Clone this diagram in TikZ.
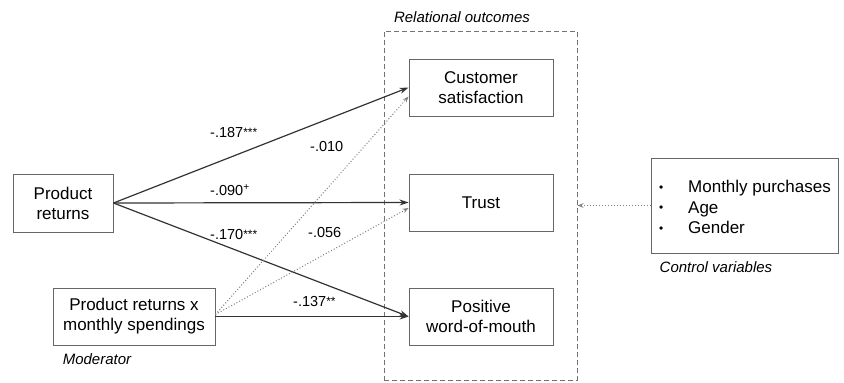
\documentclass[tikz,border=0pt]{standalone}
\usepackage{fontspec}
\setmainfont{Liberation Sans}
\usetikzlibrary{arrows.meta}
\newcommand{\sigstars}[1]{\raisebox{1.5pt}{\fontsize{12}{12}\selectfont #1}}
\newcommand{\smallbul}{\makebox[29pt][l]{\raisebox{1.5pt}{\scalebox{0.7}{\textbullet}}}}
\begin{document}
\begin{tikzpicture}[x=1pt,y=-1pt,
  box/.style={draw=black!60, line width=0.9pt, align=center, font=\fontsize{17}{20}\selectfont, inner sep=0pt},
  coef/.style={font=\fontsize{14.5}{17}\selectfont, anchor=west, inner sep=0pt},
  captext/.style={font=\itshape\fontsize{15}{18}\selectfont, inner sep=0pt},
  strong/.style={draw=black!80, line width=1.2pt, -{Stealth[length=9pt,width=6pt]}},
  weak/.style={draw=black!50, line width=1pt, dotted, -{Stealth[length=6pt,width=4.5pt]}}]
\useasboundingbox (0,0) rectangle (844,383);
% relational outcomes frame
\node[draw=black!55, dash pattern=on 5pt off 3pt, line width=0.9pt, minimum width=193pt, minimum height=349pt, inner sep=0pt] (rel) at (480.5,205.5) {};
\node[captext] (relcap) at (462,17) {Relational outcomes};
% boxes
\node[box, minimum width=100pt, minimum height=58pt] (pr) at (63,203) {Product\\returns};
\node[box, minimum width=162pt, minimum height=57pt] (mod) at (134,316.5) {Product returns x\\monthly spendings};
\node[captext] (modcap) at (97,359) {Moderator};
\node[box, minimum width=144pt, minimum height=57pt] (cs) at (481,87.5) {Customer\\satisfaction};
\node[box, minimum width=144pt, minimum height=57pt] (tr) at (481,202.5) {Trust};
\node[box, minimum width=144pt, minimum height=57pt] (pw) at (481,316.5) {Positive\\word-of-mouth};
\node[box, minimum width=187pt, minimum height=95pt] (ctrl) at (744.5,205.5) {};
\node[anchor=west, inner sep=0pt, align=left, font=\fontsize{17}{20.5}\selectfont] (ctrltext) at (659,207)
  {\smallbul Monthly purchases\\\smallbul Age\\\smallbul Gender};
\node[captext] (ctrlcap) at (716,267) {Control variables};
% paths
\draw[strong] (pr.east) -- (cs.west);
\draw[strong] (pr.east) -- (tr.west);
\draw[strong] (pr.east) -- (pw.west);
\draw[strong] (mod.east) -- (pw.west);
\draw[weak] ([yshift=2pt]mod.east) -- ([yshift=-9pt]cs.west);
\draw[weak] ([yshift=2pt]mod.east) -- ([yshift=-5.5pt]tr.west);
\draw[weak] (ctrl.west) -- (rel.east);
% coefficients
\node[coef] (c1) at (210,133) {-.187\sigstars{***}};
\node[coef] (c2) at (310,147) {-.010};
\node[coef] (c3) at (210,190) {-.090\textsuperscript{+}};
\node[coef] (c4) at (210,235) {-.170\sigstars{***}};
\node[coef] (c5) at (308,233) {-.056};
\node[coef] (c6) at (293,302) {-.137\sigstars{**}};
\end{tikzpicture}
\end{document}
